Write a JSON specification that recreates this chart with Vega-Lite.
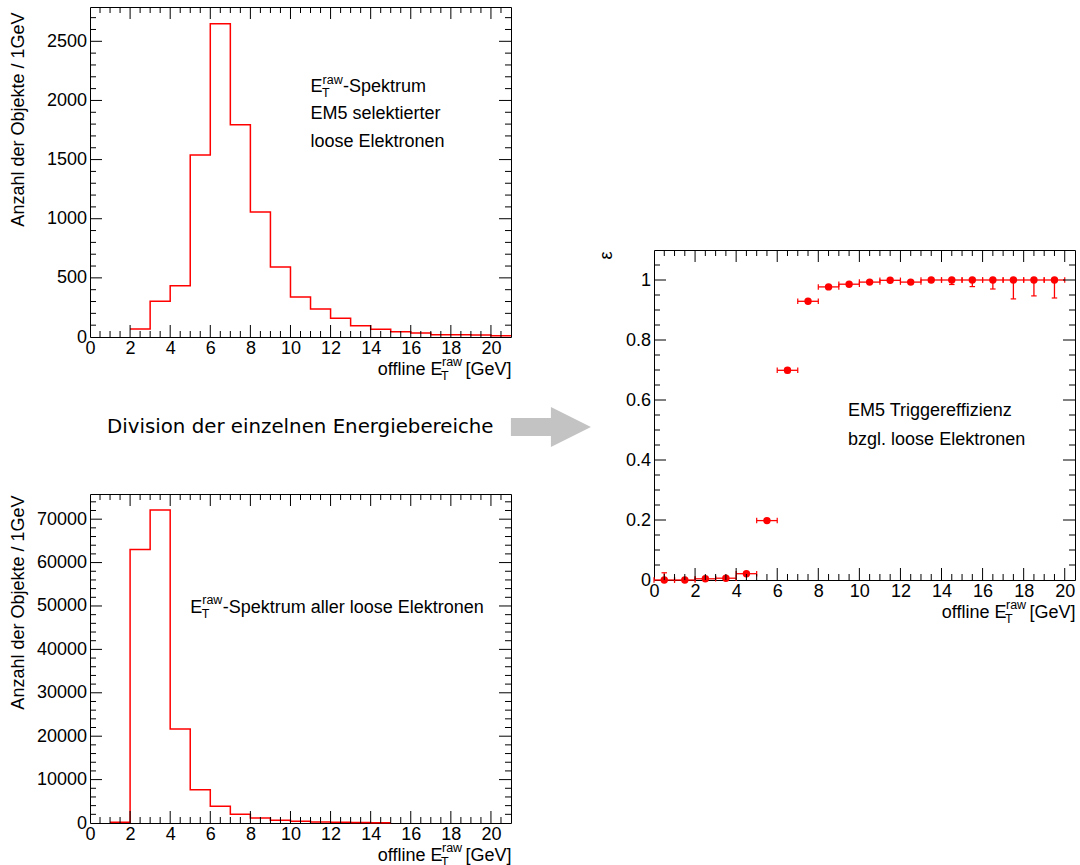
{
  "$schema": "https://vega.github.io/schema/vega-lite/v6.json",
  "padding": {"left": 8, "top": 4, "right": 0, "bottom": 0},
  "background": "white",
  "config": {
    "view": {"stroke": "#000", "strokeWidth": 1},
    "font": "Liberation Sans",
    "axis": {"labelFont": "Liberation Sans", "labelFontSize": 18, "labelColor": "#000", "titleFont": "Liberation Sans", "titleFontSize": 18, "titleFontWeight": "normal", "titleColor": "#000", "domain": false, "ticks": false, "grid": false, "labelFlush": false, "labelOverlap": false, "labelBound": false, "zindex": 1},
    "text": {"font": "Liberation Sans", "fontSize": 18, "color": "#000"}
  },
  "datasets": {
    "sel": [{"e":2,"n":68},{"e":3,"n":302},{"e":4,"n":434},{"e":5,"n":1539},{"e":6,"n":2649},{"e":7,"n":1795},{"e":8,"n":1057},{"e":9,"n":592},{"e":10,"n":338},{"e":11,"n":237},{"e":12,"n":158},{"e":13,"n":96},{"e":14,"n":65},{"e":15,"n":45},{"e":16,"n":34},{"e":17,"n":20},{"e":18,"n":20},{"e":19,"n":17},{"e":20,"n":11},{"e":21,"n":11}],
    "all": [{"e":1,"n":150},{"e":2,"n":63000},{"e":3,"n":72100},{"e":4,"n":21640},{"e":5,"n":7675},{"e":6,"n":3840},{"e":7,"n":1996},{"e":8,"n":1150},{"e":9,"n":614},{"e":10,"n":384},{"e":11,"n":230},{"e":12,"n":153},{"e":13,"n":115},{"e":14,"n":77},{"e":15,"n":77}],
    "eff": [
      {"x":0.5,"eff":0,"lo":0,"hi":0.024,"xl":0,"xh":1},
      {"x":1.5,"eff":0,"lo":0,"hi":0.004,"xl":1,"xh":2},
      {"x":2.5,"eff":0.004,"lo":0.002,"hi":0.007,"xl":2,"xh":3},
      {"x":3.5,"eff":0.006,"lo":0.004,"hi":0.009,"xl":3,"xh":4},
      {"x":4.5,"eff":0.021,"lo":0.017,"hi":0.025,"xl":4,"xh":5},
      {"x":5.5,"eff":0.198,"lo":0.193,"hi":0.203,"xl":5,"xh":6},
      {"x":6.5,"eff":0.699,"lo":0.691,"hi":0.706,"xl":6,"xh":7},
      {"x":7.5,"eff":0.929,"lo":0.923,"hi":0.935,"xl":7,"xh":8},
      {"x":8.5,"eff":0.977,"lo":0.972,"hi":0.981,"xl":8,"xh":9},
      {"x":9.5,"eff":0.986,"lo":0.981,"hi":0.99,"xl":9,"xh":10},
      {"x":10.5,"eff":0.993,"lo":0.989,"hi":0.996,"xl":10,"xh":11},
      {"x":11.5,"eff":0.999,"lo":0.995,"hi":1,"xl":11,"xh":12},
      {"x":12.5,"eff":0.993,"lo":0.987,"hi":0.997,"xl":12,"xh":13},
      {"x":13.5,"eff":1,"lo":0.993,"hi":1,"xl":13,"xh":14},
      {"x":14.5,"eff":1,"lo":0.985,"hi":1,"xl":14,"xh":15},
      {"x":15.5,"eff":1,"lo":0.978,"hi":1,"xl":15,"xh":16},
      {"x":16.5,"eff":1,"lo":0.97,"hi":1,"xl":16,"xh":17},
      {"x":17.5,"eff":1,"lo":0.937,"hi":1,"xl":17,"xh":18},
      {"x":18.5,"eff":1,"lo":0.947,"hi":1,"xl":18,"xh":19},
      {"x":19.5,"eff":1,"lo":0.94,"hi":1,"xl":19,"xh":20}
    ],
    "xmaj": [{"v":2},{"v":4},{"v":6},{"v":8},{"v":10},{"v":12},{"v":14},{"v":16},{"v":18},{"v":20}],
    "xmin": [{"v":0.5},{"v":1},{"v":1.5},{"v":2.5},{"v":3},{"v":3.5},{"v":4.5},{"v":5},{"v":5.5},{"v":6.5},{"v":7},{"v":7.5},{"v":8.5},{"v":9},{"v":9.5},{"v":10.5},{"v":11},{"v":11.5},{"v":12.5},{"v":13},{"v":13.5},{"v":14.5},{"v":15},{"v":15.5},{"v":16.5},{"v":17},{"v":17.5},{"v":18.5},{"v":19},{"v":19.5},{"v":20.5}],
    "y1maj": [{"v":500},{"v":1000},{"v":1500},{"v":2000},{"v":2500}],
    "y1min": [{"v":100},{"v":200},{"v":300},{"v":400},{"v":600},{"v":700},{"v":800},{"v":900},{"v":1100},{"v":1200},{"v":1300},{"v":1400},{"v":1600},{"v":1700},{"v":1800},{"v":1900},{"v":2100},{"v":2200},{"v":2300},{"v":2400},{"v":2600},{"v":2700}],
    "y2maj": [{"v":10000},{"v":20000},{"v":30000},{"v":40000},{"v":50000},{"v":60000},{"v":70000}],
    "y2min": [{"v":2000},{"v":4000},{"v":6000},{"v":8000},{"v":12000},{"v":14000},{"v":16000},{"v":18000},{"v":22000},{"v":24000},{"v":26000},{"v":28000},{"v":32000},{"v":34000},{"v":36000},{"v":38000},{"v":42000},{"v":44000},{"v":46000},{"v":48000},{"v":52000},{"v":54000},{"v":56000},{"v":58000},{"v":62000},{"v":64000},{"v":66000},{"v":68000},{"v":72000},{"v":74000}],
    "y3maj": [{"v":0.2},{"v":0.4},{"v":0.6},{"v":0.8},{"v":1}],
    "y3min": [{"v":0.05},{"v":0.1},{"v":0.15},{"v":0.25},{"v":0.3},{"v":0.35},{"v":0.45},{"v":0.5},{"v":0.55},{"v":0.65},{"v":0.7},{"v":0.75},{"v":0.85},{"v":0.9},{"v":0.95},{"v":1.05}],
    "one": [{}],
    "mid": [{"t": "Division der einzelnen Energiebereiche"}]
  },
  "spacing": 5,
  "hconcat": [
    {
      "spacing": 0,
      "vconcat": [
        {
          "width": 421, "height": 330,
          "layer": [
            {
              "data": {"name": "sel"},
              "mark": {"type": "line", "interpolate": "step-after", "color": "#ff0000", "strokeWidth": 1.5},
              "encoding": {
                "x": {"field": "e", "type": "quantitative", "scale": {"domain": [0, 21], "nice": false, "zero": false},
                  "axis": {"values": [0,2,4,6,8,10,12,14,16,18,20], "format": "d", "labelPadding": 2, "title": "offline E\u2002\u2002 [GeV]", "titleAnchor": "end", "titleAlign": "right", "titleX": 421, "titleY": 37, "titleBaseline": "alphabetic"}},
                "y": {"field": "n", "type": "quantitative", "scale": {"domain": [0, 2790], "nice": false},
                  "axis": {"values": [0,500,1000,1500,2000,2500], "format": "d", "labelPadding": 3.5, "title": "Anzahl der Objekte / 1GeV", "titleAngle": -90, "titleAnchor": "end", "titleAlign": "right", "titleX": -67, "titleY": 5, "titleBaseline": "alphabetic"}}
              }
            },
            {"data": {"name": "xmaj"}, "mark": {"type": "point", "shape": "M0,0L0,-1", "size": 576, "filled": false, "stroke": "#000", "strokeWidth": 1, "opacity": 1}, "encoding": {"x": {"field": "v", "type": "quantitative"}, "y": {"datum": 0, "type": "quantitative"}}},
            {"data": {"name": "xmaj"}, "mark": {"type": "point", "shape": "M0,0L0,1", "size": 576, "filled": false, "stroke": "#000", "strokeWidth": 1, "opacity": 1}, "encoding": {"x": {"field": "v", "type": "quantitative"}, "y": {"datum": 2790, "type": "quantitative"}}},
            {"data": {"name": "xmin"}, "mark": {"type": "point", "shape": "M0,0L0,-1", "size": 144, "filled": false, "stroke": "#000", "strokeWidth": 1, "opacity": 1}, "encoding": {"x": {"field": "v", "type": "quantitative"}, "y": {"datum": 0, "type": "quantitative"}}},
            {"data": {"name": "xmin"}, "mark": {"type": "point", "shape": "M0,0L0,1", "size": 144, "filled": false, "stroke": "#000", "strokeWidth": 1, "opacity": 1}, "encoding": {"x": {"field": "v", "type": "quantitative"}, "y": {"datum": 2790, "type": "quantitative"}}},
            {"data": {"name": "y1maj"}, "mark": {"type": "point", "shape": "M0,0L1,0", "size": 576, "filled": false, "stroke": "#000", "strokeWidth": 1, "opacity": 1}, "encoding": {"y": {"field": "v", "type": "quantitative"}, "x": {"datum": 0, "type": "quantitative"}}},
            {"data": {"name": "y1maj"}, "mark": {"type": "point", "shape": "M0,0L-1,0", "size": 576, "filled": false, "stroke": "#000", "strokeWidth": 1, "opacity": 1}, "encoding": {"y": {"field": "v", "type": "quantitative"}, "x": {"datum": 21, "type": "quantitative"}}},
            {"data": {"name": "y1min"}, "mark": {"type": "point", "shape": "M0,0L1,0", "size": 144, "filled": false, "stroke": "#000", "strokeWidth": 1, "opacity": 1}, "encoding": {"y": {"field": "v", "type": "quantitative"}, "x": {"datum": 0, "type": "quantitative"}}},
            {"data": {"name": "y1min"}, "mark": {"type": "point", "shape": "M0,0L-1,0", "size": 144, "filled": false, "stroke": "#000", "strokeWidth": 1, "opacity": 1}, "encoding": {"y": {"field": "v", "type": "quantitative"}, "x": {"datum": 21, "type": "quantitative"}}},
            {"data": {"name": "one"}, "mark": {"type": "text", "align": "left", "baseline": "alphabetic", "fontSize": 18}, "encoding": {"x": {"datum": 11, "type": "quantitative"}, "y": {"datum": 2071, "type": "quantitative"}, "text": {"value": "E"}}},
            {"data": {"name": "one"}, "mark": {"type": "text", "align": "left", "baseline": "alphabetic", "fontSize": 12.5, "dx": 12, "dy": -8.5}, "encoding": {"x": {"datum": 11, "type": "quantitative"}, "y": {"datum": 2071, "type": "quantitative"}, "text": {"value": "raw"}}},
            {"data": {"name": "one"}, "mark": {"type": "text", "align": "left", "baseline": "alphabetic", "fontSize": 12.5, "dx": 11.5, "dy": 5}, "encoding": {"x": {"datum": 11, "type": "quantitative"}, "y": {"datum": 2071, "type": "quantitative"}, "text": {"value": "T"}}},
            {"data": {"name": "one"}, "mark": {"type": "text", "align": "left", "baseline": "alphabetic", "fontSize": 18, "dx": 32.5}, "encoding": {"x": {"datum": 11, "type": "quantitative"}, "y": {"datum": 2071, "type": "quantitative"}, "text": {"value": "-Spektrum"}}},
            {"data": {"name": "one"}, "mark": {"type": "text", "align": "left", "baseline": "alphabetic", "fontSize": 18}, "encoding": {"x": {"datum": 11, "type": "quantitative"}, "y": {"datum": 1840, "type": "quantitative"}, "text": {"value": "EM5 selektierter"}}},
            {"data": {"name": "one"}, "mark": {"type": "text", "align": "left", "baseline": "alphabetic", "fontSize": 18}, "encoding": {"x": {"datum": 11, "type": "quantitative"}, "y": {"datum": 1606, "type": "quantitative"}, "text": {"value": "loose Elektronen"}}},
            {"data": {"name": "one"}, "mark": {"type": "text", "align": "left", "baseline": "alphabetic", "fontSize": 12.5, "dx": -69, "dy": 28.7}, "encoding": {"x": {"datum": 21, "type": "quantitative"}, "y": {"datum": 0, "type": "quantitative"}, "text": {"value": "raw"}}},
            {"data": {"name": "one"}, "mark": {"type": "text", "align": "left", "baseline": "alphabetic", "fontSize": 12.5, "dx": -70, "dy": 43}, "encoding": {"x": {"datum": 21, "type": "quantitative"}, "y": {"datum": 0, "type": "quantitative"}, "text": {"value": "T"}}}
          ]
        },
        {
          "width": 501, "height": 108,
          "view": {"stroke": null},
          "layer": [
            {"data": {"name": "mid"}, "mark": {"type": "text", "font": "DejaVu Sans", "fontSize": 19.8, "align": "left", "baseline": "middle", "color": "#000"},
              "encoding": {"x": {"datum": 0.85, "type": "quantitative", "scale": {"domain": [0, 25], "nice": false, "zero": false}, "axis": null}, "y": {"datum": 64, "type": "quantitative", "scale": {"domain": [0, 108], "nice": false}, "axis": null}, "text": {"field": "t"}}},
            {"data": {"name": "one"}, "mark": {"type": "point", "shape": "M-1,-0.225L0,-0.225L0,-0.5L1,0L0,0.5L0,0.225L-1,0.225Z", "filled": true, "fill": "#c3c3c3", "strokeWidth": 0, "size": 6400, "opacity": 1},
              "encoding": {"x": {"datum": 23, "type": "quantitative", "axis": null}, "y": {"datum": 64, "type": "quantitative", "axis": null}}}
          ]
        },
        {
          "width": 421, "height": 329,
          "layer": [
            {
              "data": {"name": "all"},
              "mark": {"type": "line", "interpolate": "step-after", "color": "#ff0000", "strokeWidth": 1.5},
              "encoding": {
                "x": {"field": "e", "type": "quantitative", "scale": {"domain": [0, 21], "nice": false, "zero": false},
                  "axis": {"values": [0,2,4,6,8,10,12,14,16,18,20], "format": "d", "labelPadding": 2, "title": "offline E\u2002\u2002 [GeV]", "titleAnchor": "end", "titleAlign": "right", "titleX": 421, "titleY": 37, "titleBaseline": "alphabetic"}},
                "y": {"field": "n", "type": "quantitative", "scale": {"domain": [0, 75800], "nice": false},
                  "axis": {"values": [0,10000,20000,30000,40000,50000,60000,70000], "format": "d", "labelPadding": 3.5, "title": "Anzahl der Objekte / 1GeV", "titleAngle": -90, "titleAnchor": "end", "titleAlign": "right", "titleX": -67, "titleY": 1, "titleBaseline": "alphabetic"}}
              }
            },
            {"data": {"name": "xmaj"}, "mark": {"type": "point", "shape": "M0,0L0,-1", "size": 576, "filled": false, "stroke": "#000", "strokeWidth": 1, "opacity": 1}, "encoding": {"x": {"field": "v", "type": "quantitative"}, "y": {"datum": 0, "type": "quantitative"}}},
            {"data": {"name": "xmaj"}, "mark": {"type": "point", "shape": "M0,0L0,1", "size": 576, "filled": false, "stroke": "#000", "strokeWidth": 1, "opacity": 1}, "encoding": {"x": {"field": "v", "type": "quantitative"}, "y": {"datum": 75800, "type": "quantitative"}}},
            {"data": {"name": "xmin"}, "mark": {"type": "point", "shape": "M0,0L0,-1", "size": 144, "filled": false, "stroke": "#000", "strokeWidth": 1, "opacity": 1}, "encoding": {"x": {"field": "v", "type": "quantitative"}, "y": {"datum": 0, "type": "quantitative"}}},
            {"data": {"name": "xmin"}, "mark": {"type": "point", "shape": "M0,0L0,1", "size": 144, "filled": false, "stroke": "#000", "strokeWidth": 1, "opacity": 1}, "encoding": {"x": {"field": "v", "type": "quantitative"}, "y": {"datum": 75800, "type": "quantitative"}}},
            {"data": {"name": "y2maj"}, "mark": {"type": "point", "shape": "M0,0L1,0", "size": 576, "filled": false, "stroke": "#000", "strokeWidth": 1, "opacity": 1}, "encoding": {"y": {"field": "v", "type": "quantitative"}, "x": {"datum": 0, "type": "quantitative"}}},
            {"data": {"name": "y2maj"}, "mark": {"type": "point", "shape": "M0,0L-1,0", "size": 576, "filled": false, "stroke": "#000", "strokeWidth": 1, "opacity": 1}, "encoding": {"y": {"field": "v", "type": "quantitative"}, "x": {"datum": 21, "type": "quantitative"}}},
            {"data": {"name": "y2min"}, "mark": {"type": "point", "shape": "M0,0L1,0", "size": 144, "filled": false, "stroke": "#000", "strokeWidth": 1, "opacity": 1}, "encoding": {"y": {"field": "v", "type": "quantitative"}, "x": {"datum": 0, "type": "quantitative"}}},
            {"data": {"name": "y2min"}, "mark": {"type": "point", "shape": "M0,0L-1,0", "size": 144, "filled": false, "stroke": "#000", "strokeWidth": 1, "opacity": 1}, "encoding": {"y": {"field": "v", "type": "quantitative"}, "x": {"datum": 21, "type": "quantitative"}}},
            {"data": {"name": "one"}, "mark": {"type": "text", "align": "left", "baseline": "alphabetic", "fontSize": 18}, "encoding": {"x": {"datum": 5, "type": "quantitative"}, "y": {"datum": 48450, "type": "quantitative"}, "text": {"value": "E"}}},
            {"data": {"name": "one"}, "mark": {"type": "text", "align": "left", "baseline": "alphabetic", "fontSize": 12.5, "dx": 12, "dy": -8.5}, "encoding": {"x": {"datum": 5, "type": "quantitative"}, "y": {"datum": 48450, "type": "quantitative"}, "text": {"value": "raw"}}},
            {"data": {"name": "one"}, "mark": {"type": "text", "align": "left", "baseline": "alphabetic", "fontSize": 12.5, "dx": 11.5, "dy": 5}, "encoding": {"x": {"datum": 5, "type": "quantitative"}, "y": {"datum": 48450, "type": "quantitative"}, "text": {"value": "T"}}},
            {"data": {"name": "one"}, "mark": {"type": "text", "align": "left", "baseline": "alphabetic", "fontSize": 18, "dx": 32.5}, "encoding": {"x": {"datum": 5, "type": "quantitative"}, "y": {"datum": 48450, "type": "quantitative"}, "text": {"value": "-Spektrum aller loose Elektronen"}}},
            {"data": {"name": "one"}, "mark": {"type": "text", "align": "left", "baseline": "alphabetic", "fontSize": 12.5, "dx": -69, "dy": 28.7}, "encoding": {"x": {"datum": 21, "type": "quantitative"}, "y": {"datum": 0, "type": "quantitative"}, "text": {"value": "raw"}}},
            {"data": {"name": "one"}, "mark": {"type": "text", "align": "left", "baseline": "alphabetic", "fontSize": 12.5, "dx": -70, "dy": 43}, "encoding": {"x": {"datum": 21, "type": "quantitative"}, "y": {"datum": 0, "type": "quantitative"}, "text": {"value": "T"}}}
          ]
        }
      ]
    },
    {
      "spacing": 0,
      "vconcat": [
        {"width": 1, "height": 240, "view": {"stroke": null}, "data": {"name": "one"}, "mark": {"type": "text"}, "encoding": {"text": {"value": ""}}},
        {
          "width": 421, "height": 330,
          "layer": [
            {"data": {"name": "eff"}, "mark": {"type": "rule", "color": "#ff0000", "strokeWidth": 1.3},
              "encoding": {"x": {"field": "xl", "type": "quantitative", "scale": {"domain": [0, 20.5], "nice": false, "zero": false},
                  "axis": {"values": [0,2,4,6,8,10,12,14,16,18,20], "format": "d", "labelPadding": 2, "title": "offline E\u2002\u2002 [GeV]", "titleAnchor": "end", "titleAlign": "right", "titleX": 421, "titleY": 37, "titleBaseline": "alphabetic"}},
                "x2": {"field": "xh"},
                "y": {"field": "eff", "type": "quantitative", "scale": {"domain": [0, 1.1], "nice": false},
                  "axis": {"values": [0,0.2,0.4,0.6,0.8,1], "format": "~g", "labelPadding": 3.5, "title": "ε", "titleAngle": -90, "titleAnchor": "end", "titleAlign": "right", "titleX": -43, "titleY": 1, "titleBaseline": "alphabetic"}}}},
            {"data": {"name": "eff"}, "mark": {"type": "rule", "color": "#ff0000", "strokeWidth": 1.3},
              "encoding": {"x": {"field": "x", "type": "quantitative"}, "y": {"field": "lo", "type": "quantitative"}, "y2": {"field": "hi"}}},
            {"data": {"name": "eff"}, "mark": {"type": "point", "shape": "M0,-1L0,1", "filled": false, "stroke": "#ff0000", "strokeWidth": 1.2, "size": 30, "opacity": 1},
              "encoding": {"x": {"field": "xl", "type": "quantitative"}, "y": {"field": "eff", "type": "quantitative"}}},
            {"data": {"name": "eff"}, "mark": {"type": "point", "shape": "M0,-1L0,1", "filled": false, "stroke": "#ff0000", "strokeWidth": 1.2, "size": 30, "opacity": 1},
              "encoding": {"x": {"field": "xh", "type": "quantitative"}, "y": {"field": "eff", "type": "quantitative"}}},
            {"data": {"name": "eff"}, "mark": {"type": "point", "shape": "M-1,0L1,0", "filled": false, "stroke": "#ff0000", "strokeWidth": 1.2, "size": 30, "opacity": 1},
              "encoding": {"x": {"field": "x", "type": "quantitative"}, "y": {"field": "lo", "type": "quantitative"}}},
            {"data": {"name": "eff"}, "mark": {"type": "point", "shape": "M-1,0L1,0", "filled": false, "stroke": "#ff0000", "strokeWidth": 1.2, "size": 30, "opacity": 1},
              "encoding": {"x": {"field": "x", "type": "quantitative"}, "y": {"field": "hi", "type": "quantitative"}}},
            {"data": {"name": "eff"}, "mark": {"type": "point", "shape": "circle", "filled": true, "color": "#ff0000", "size": 55, "opacity": 1},
              "encoding": {"x": {"field": "x", "type": "quantitative"}, "y": {"field": "eff", "type": "quantitative"}}},
            {"data": {"name": "xmaj"}, "mark": {"type": "point", "shape": "M0,0L0,-1", "size": 576, "filled": false, "stroke": "#000", "strokeWidth": 1, "opacity": 1}, "encoding": {"x": {"field": "v", "type": "quantitative"}, "y": {"datum": 0, "type": "quantitative"}}},
            {"data": {"name": "xmaj"}, "mark": {"type": "point", "shape": "M0,0L0,1", "size": 576, "filled": false, "stroke": "#000", "strokeWidth": 1, "opacity": 1}, "encoding": {"x": {"field": "v", "type": "quantitative"}, "y": {"datum": 1.1, "type": "quantitative"}}},
            {"data": {"name": "xmin"}, "transform": [{"filter": "datum.v < 20.5"}], "mark": {"type": "point", "shape": "M0,0L0,-1", "size": 144, "filled": false, "stroke": "#000", "strokeWidth": 1, "opacity": 1}, "encoding": {"x": {"field": "v", "type": "quantitative"}, "y": {"datum": 0, "type": "quantitative"}}},
            {"data": {"name": "xmin"}, "transform": [{"filter": "datum.v < 20.5"}], "mark": {"type": "point", "shape": "M0,0L0,1", "size": 144, "filled": false, "stroke": "#000", "strokeWidth": 1, "opacity": 1}, "encoding": {"x": {"field": "v", "type": "quantitative"}, "y": {"datum": 1.1, "type": "quantitative"}}},
            {"data": {"name": "y3maj"}, "mark": {"type": "point", "shape": "M0,0L1,0", "size": 576, "filled": false, "stroke": "#000", "strokeWidth": 1, "opacity": 1}, "encoding": {"y": {"field": "v", "type": "quantitative"}, "x": {"datum": 0, "type": "quantitative"}}},
            {"data": {"name": "y3maj"}, "mark": {"type": "point", "shape": "M0,0L-1,0", "size": 576, "filled": false, "stroke": "#000", "strokeWidth": 1, "opacity": 1}, "encoding": {"y": {"field": "v", "type": "quantitative"}, "x": {"datum": 20.5, "type": "quantitative"}}},
            {"data": {"name": "y3min"}, "mark": {"type": "point", "shape": "M0,0L1,0", "size": 144, "filled": false, "stroke": "#000", "strokeWidth": 1, "opacity": 1}, "encoding": {"y": {"field": "v", "type": "quantitative"}, "x": {"datum": 0, "type": "quantitative"}}},
            {"data": {"name": "y3min"}, "mark": {"type": "point", "shape": "M0,0L-1,0", "size": 144, "filled": false, "stroke": "#000", "strokeWidth": 1, "opacity": 1}, "encoding": {"y": {"field": "v", "type": "quantitative"}, "x": {"datum": 20.5, "type": "quantitative"}}},
            {"data": {"name": "one"}, "mark": {"type": "text", "align": "left", "baseline": "alphabetic", "fontSize": 18}, "encoding": {"x": {"datum": 9.45, "type": "quantitative"}, "y": {"datum": 0.547, "type": "quantitative"}, "text": {"value": "EM5 Triggereffizienz"}}},
            {"data": {"name": "one"}, "mark": {"type": "text", "align": "left", "baseline": "alphabetic", "fontSize": 18}, "encoding": {"x": {"datum": 9.45, "type": "quantitative"}, "y": {"datum": 0.451, "type": "quantitative"}, "text": {"value": "bzgl. loose Elektronen"}}},
            {"data": {"name": "one"}, "mark": {"type": "text", "align": "left", "baseline": "alphabetic", "fontSize": 12.5, "dx": -69, "dy": 28.7}, "encoding": {"x": {"datum": 20.5, "type": "quantitative"}, "y": {"datum": 0, "type": "quantitative"}, "text": {"value": "raw"}}},
            {"data": {"name": "one"}, "mark": {"type": "text", "align": "left", "baseline": "alphabetic", "fontSize": 12.5, "dx": -70, "dy": 43}, "encoding": {"x": {"datum": 20.5, "type": "quantitative"}, "y": {"datum": 0, "type": "quantitative"}, "text": {"value": "T"}}}
          ]
        }
      ]
    }
  ]
}
